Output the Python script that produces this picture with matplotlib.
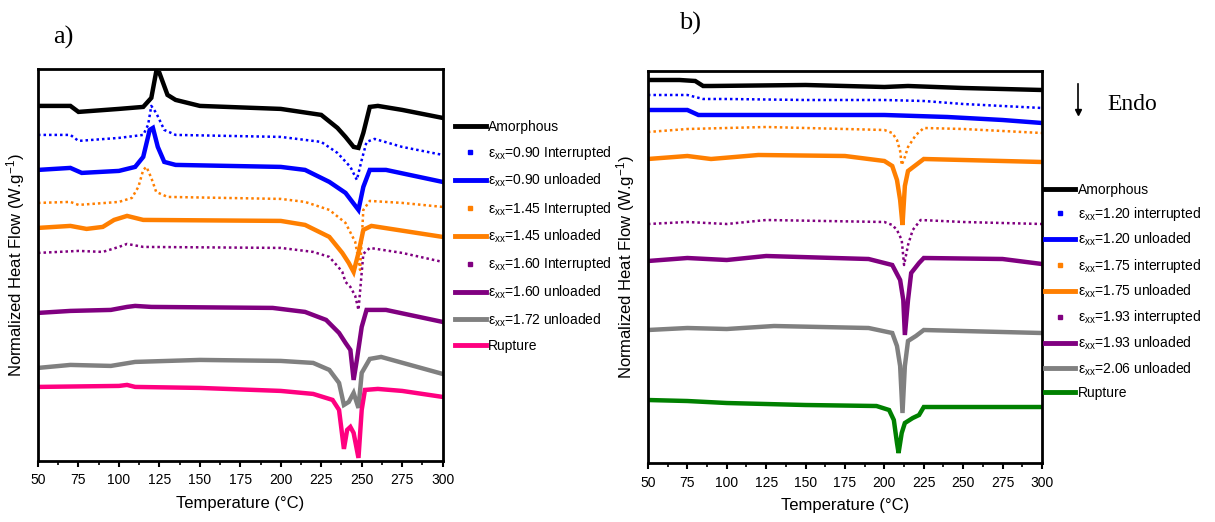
import matplotlib
matplotlib.use("Agg")
import matplotlib.pyplot as plt
from matplotlib.lines import Line2D

plt.rcParams["font.family"] = ["Liberation Sans", "DejaVu Sans"]
plt.rcParams["mathtext.fontset"] = "custom"
plt.rcParams["mathtext.rm"] = "Liberation Sans"
plt.rcParams["mathtext.it"] = "Liberation Sans"

# ---- panel a) data: temperature (C) and normalized heat flow (a.u., offset curves) ----
a_amorph_T  = [50, 70, 75, 100, 115, 120, 123, 125, 130, 135, 150, 200, 225, 235, 240, 245, 248, 251, 255, 260, 275, 300]
a_amorph_hf = [355, 355, 349, 352, 354, 363, 389, 388, 366, 361, 355, 352, 346, 333, 324, 314, 313, 328, 354, 355, 351, 343]

a_090i_T  = [50, 70, 75, 100, 115, 118, 120, 123, 128, 135, 200, 225, 235, 243, 247, 250, 253, 258, 275, 300]
a_090i_hf = [326, 326, 320, 323, 326, 336, 355, 348, 331, 326, 324, 319, 308, 294, 281, 301, 319, 322, 314, 306]

a_090u_T  = [50, 70, 77, 100, 110, 115, 119, 121, 124, 128, 135, 200, 215, 230, 240, 248, 251, 255, 265, 300]
a_090u_hf = [291, 293, 288, 290, 294, 304, 331, 333, 314, 299, 296, 294, 291, 279, 268, 251, 274, 291, 291, 279]

a_145i_T  = [50, 70, 75, 100, 108, 112, 115, 117, 120, 123, 130, 200, 215, 230, 240, 246, 249, 251, 255, 275, 300]
a_145i_hf = [258, 259, 256, 259, 263, 274, 291, 294, 283, 269, 264, 262, 259, 251, 238, 219, 191, 251, 260, 258, 254]

a_145u_T  = [50, 70, 80, 90, 97, 105, 115, 200, 215, 230, 238, 242, 245, 248, 251, 256, 300]
a_145u_hf = [233, 235, 232, 234, 241, 245, 241, 240, 236, 224, 208, 198, 189, 208, 231, 235, 224]

a_160i_T  = [50, 75, 90, 100, 105, 115, 200, 220, 230, 236, 238, 240, 243, 246, 248, 251, 255, 275, 300]
a_160i_hf = [208, 210, 209, 214, 217, 214, 213, 209, 204, 193, 189, 179, 174, 165, 151, 207, 213, 208, 199]

a_160u_T  = [50, 70, 95, 105, 110, 120, 195, 215, 228, 236, 240, 243, 245, 247, 250, 253, 265, 300]
a_160u_hf = [148, 150, 151, 154, 155, 154, 153, 149, 141, 128, 118, 111, 81, 101, 134, 151, 151, 139]

a_172u_T  = [50, 70, 95, 110, 150, 200, 220, 230, 236, 239, 242, 245, 248, 250, 255, 262, 300]
a_172u_hf = [93, 96, 95, 99, 101, 100, 98, 91, 78, 56, 59, 68, 53, 88, 102, 104, 87]

a_rupt_T  = [50, 100, 105, 110, 150, 200, 220, 232, 236, 239, 241, 243, 245, 248, 250, 252, 260, 275, 300]
a_rupt_hf = [74, 75, 76, 74, 73, 70, 67, 61, 51, 12, 31, 34, 28, 3, 51, 71, 72, 70, 64]

# ---- panel b) data ----
b_amorph_T  = [50, 70, 80, 85, 90, 150, 200, 215, 250, 300]
b_amorph_hf = [383, 383, 382, 377, 377, 378, 376, 377, 375, 373]

b_120i_T  = [50, 75, 85, 100, 150, 200, 225, 250, 300]
b_120i_hf = [368, 368, 364, 364, 363, 363, 362, 359, 355]

b_120u_T  = [50, 75, 82, 200, 240, 275, 300]
b_120u_hf = [353, 353, 348, 348, 346, 343, 340]

b_175i_T  = [50, 75, 125, 200, 205, 208, 210, 211, 213, 215, 220, 225, 250, 300]
b_175i_hf = [331, 334, 336, 333, 330, 323, 312, 298, 306, 316, 328, 335, 334, 330]

b_175u_T  = [50, 75, 90, 120, 175, 190, 200, 205, 208, 210, 211.5, 213, 215, 220, 225, 250, 300]
b_175u_hf = [304, 307, 304, 308, 307, 304, 302, 297, 283, 263, 238, 277, 292, 298, 304, 303, 301]

b_193i_T  = [50, 75, 100, 125, 200, 205, 208, 211, 212.5, 215, 218, 223, 250, 300]
b_193i_hf = [239, 241, 239, 243, 241, 238, 233, 223, 198, 218, 233, 243, 241, 239]

b_193u_T  = [50, 75, 100, 125, 190, 205, 210, 212, 213, 215, 217, 222, 225, 275, 300]
b_193u_hf = [202, 205, 203, 207, 204, 198, 183, 163, 128, 163, 190, 200, 205, 204, 199]

b_206u_T  = [50, 75, 100, 130, 190, 205, 208, 210, 211.5, 213, 215, 220, 225, 300]
b_206u_hf = [133, 135, 134, 137, 135, 130, 117, 97, 50, 97, 122, 127, 133, 130]

b_rupt_T  = [50, 75, 100, 150, 195, 203, 206, 208, 209, 211, 213, 218, 222, 225, 300]
b_rupt_hf = [63, 62, 60, 58, 57, 53, 43, 20, 10, 30, 40, 45, 48, 56, 56]

BLACK, BLUE, ORANGE, PURPLE, GRAY = "#000000", "#0000ff", "#ff7f00", "#800080", "#808080"
PINK, GREEN = "#ff0080", "#008000"

eps = "ε$_{xx}$"

curves_a = [
    (a_amorph_T, a_amorph_hf, BLACK, "solid", "Amorphous"),
    (a_090i_T, a_090i_hf, BLUE, "dot", eps + "=0.90 Interrupted"),
    (a_090u_T, a_090u_hf, BLUE, "solid", eps + "=0.90 unloaded"),
    (a_145i_T, a_145i_hf, ORANGE, "dot", eps + "=1.45 Interrupted"),
    (a_145u_T, a_145u_hf, ORANGE, "solid", eps + "=1.45 unloaded"),
    (a_160i_T, a_160i_hf, PURPLE, "dot", eps + "=1.60 Interrupted"),
    (a_160u_T, a_160u_hf, PURPLE, "solid", eps + "=1.60 unloaded"),
    (a_172u_T, a_172u_hf, GRAY, "solid", eps + "=1.72 unloaded"),
    (a_rupt_T, a_rupt_hf, PINK, "solid", "Rupture"),
]

curves_b = [
    (b_amorph_T, b_amorph_hf, BLACK, "solid", "Amorphous"),
    (b_120i_T, b_120i_hf, BLUE, "dot", eps + "=1.20 interrupted"),
    (b_120u_T, b_120u_hf, BLUE, "solid", eps + "=1.20 unloaded"),
    (b_175i_T, b_175i_hf, ORANGE, "dot", eps + "=1.75 interrupted"),
    (b_175u_T, b_175u_hf, ORANGE, "solid", eps + "=1.75 unloaded"),
    (b_193i_T, b_193i_hf, PURPLE, "dot", eps + "=1.93 interrupted"),
    (b_193u_T, b_193u_hf, PURPLE, "solid", eps + "=1.93 unloaded"),
    (b_206u_T, b_206u_hf, GRAY, "solid", eps + "=2.06 unloaded"),
    (b_rupt_T, b_rupt_hf, GREEN, "solid", "Rupture"),
]


def draw_panel(ax, curves):
    handles = []
    for T, hf, col, kind, lbl in curves:
        if kind == "solid":
            ax.plot(T, hf, color=col, lw=3.2, solid_joinstyle="miter")
            handles.append(Line2D([], [], color=col, lw=3.5))
        else:
            ax.plot(T, hf, color=col, lw=1.8, ls=(0, (1, 1.2)))
            handles.append(Line2D([], [], color=col, ls="none", marker="s", ms=2.5))
    ax.set_xlim(50, 300)
    ax.set_ylim(0, 392)
    ax.set_xticks(range(50, 301, 25))
    ax.set_xticks([50 + 12.5 * i for i in range(21)], minor=True)
    ax.set_yticks([])
    ax.tick_params(axis="x", which="major", direction="out", length=4, width=1.5, labelsize=10, pad=5)
    ax.tick_params(axis="x", which="minor", direction="out", length=3, width=1.2)
    for sp in ax.spines.values():
        sp.set_linewidth(2)
    ax.set_xlabel("Temperature (°C)", fontsize=12, labelpad=6)
    ax.set_ylabel("Normalized Heat Flow (W.g$^{-1}$)", fontsize=12, labelpad=8)
    return handles


fig = plt.figure(figsize=(12.15, 5.22), dpi=100)
ax_a = fig.add_axes([0.0313, 0.117, 0.333, 0.751])
ax_b = fig.add_axes([0.5333, 0.113, 0.3243, 0.751])

h_a = draw_panel(ax_a, curves_a)
h_b = draw_panel(ax_b, curves_b)

ax_a.legend(h_a, [c[4] for c in curves_a], loc="upper left", bbox_to_anchor=(0.3745, 0.771),
            bbox_transform=fig.transFigure, frameon=False, fontsize=10, labelspacing=0.735,
            handlelength=2.2, handletextpad=0.2, borderpad=0, borderaxespad=0)
ax_b.legend(h_b, [c[4] for c in curves_b], loc="upper left", bbox_to_anchor=(0.860, 0.650),
            bbox_transform=fig.transFigure, frameon=False, fontsize=10, labelspacing=0.59,
            handlelength=2.2, handletextpad=0.2, borderpad=0, borderaxespad=0)

fig.text(0.044, 0.928, "a)", fontsize=19, family="Liberation Serif", va="center")
fig.text(0.559, 0.955, "b)", fontsize=19, family="Liberation Serif", va="center")

fig.text(0.911, 0.800, "Endo", fontsize=17, family="Liberation Serif", va="center")
fig.add_artist(Line2D([0.8875, 0.8875], [0.84, 0.785], color="black", lw=1.2))
fig.add_artist(Line2D([0.8875], [0.785], color="black", marker="v", ms=5))

fig.savefig("out.png", dpi=100)
